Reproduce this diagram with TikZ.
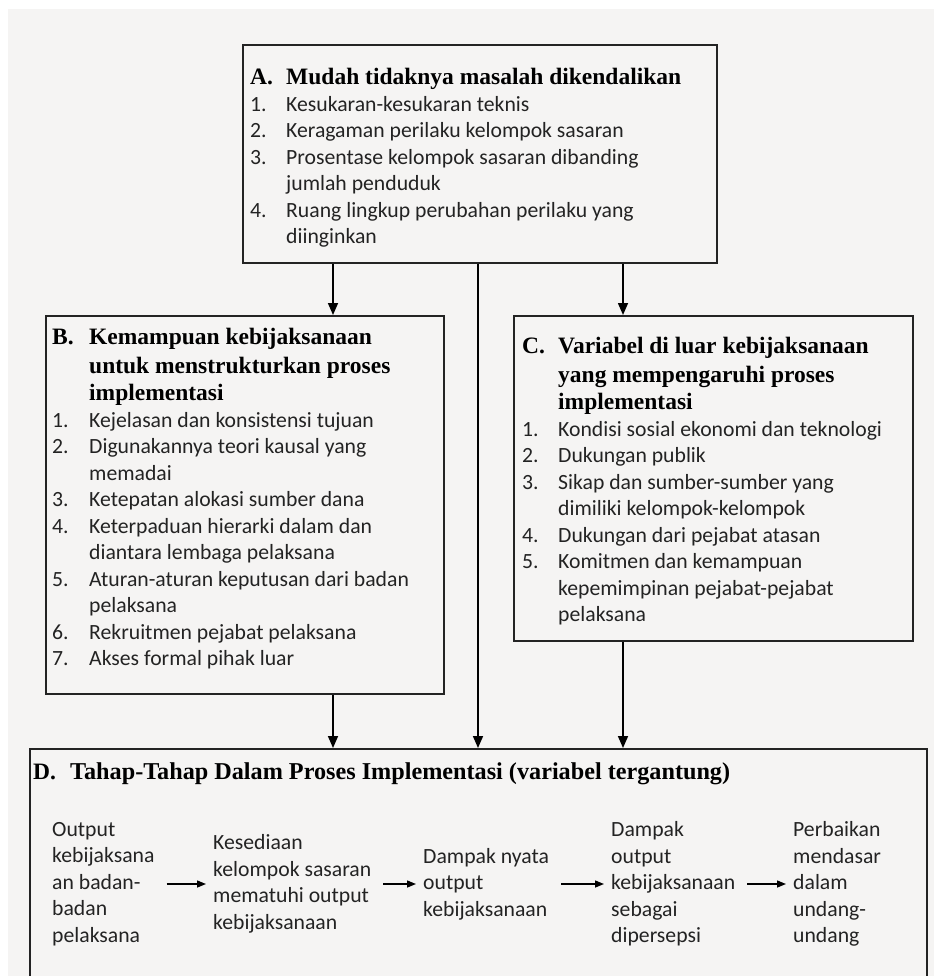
\documentclass[tikz,border=0pt]{standalone}
\usepackage{fontspec}
\usepackage{array}
\setmainfont{Liberation Serif}
\newfontfamily\calfont{Carlito}
\usetikzlibrary{arrows.meta,positioning}

\definecolor{paper}{RGB}{245,244,243}
\definecolor{ink}{RGB}{35,35,35}
\newcommand{\hfont}{\fontsize{23.5}{28}\selectfont\rmfamily\bfseries\color{black}}
\newcommand{\ifont}{\fontsize{21.7}{26.5}\selectfont\calfont}

\begin{document}
\begin{tikzpicture}[x=1pt,y=-1pt,>={Triangle[length=12pt,width=10pt]}]
        \tikzstyle{box}=[draw=ink,line width=1.6pt,anchor=north west,inner sep=0pt]
        \tikzstyle{list}=[anchor=north west,inner sep=0pt,text=ink,font=\ifont]
        \tikzstyle{link}=[->,line width=1.6pt,black]
        \tikzstyle{stage}=[anchor=west,inner sep=0pt,align=left,text=ink,font=\ifont]
        \tikzstyle{flow}=[-{Triangle[length=9pt,width=7pt]},line width=1.4pt,black,
            shorten <=12pt,shorten >=7pt]

        % Paper
        \useasboundingbox (0,0) rectangle (934,976);
        \fill[white] (0,0) rectangle (934,976);
        \fill[paper] (8,9) rectangle (934,976);

        % Draw the four boxes
        \node[box,minimum width=474pt,minimum height=218pt] (A) at (242,44) {};
        \node[box,minimum width=398pt,minimum height=378pt] (B) at (45,315) {};
        \node[box,minimum width=399pt,minimum height=325pt] (C) at (513,315) {};
        \node[box,minimum width=897pt,minimum height=260pt] (D) at (29,748) {};

        % Box A
        \node[list] (A-text) at (250,66) {\begin{tabular}{@{}w{l}{36pt}@{}l@{}}
            \hfont A. & \hfont Mudah tidaknya masalah dikendalikan\\
            1. & Kesukaran-kesukaran teknis\\
            2. & Keragaman perilaku kelompok sasaran\\
            3. & Prosentase kelompok sasaran dibanding\\
               & jumlah penduduk\\
            4. & Ruang lingkup perubahan perilaku yang\\
               & diinginkan
        \end{tabular}};

        % Box B
        \node[list] (B-text) at (52,326) {\begin{tabular}{@{}w{l}{37pt}@{}l@{}}
            \hfont B. & \hfont Kemampuan kebijaksanaan\\[2pt]
               & \hfont untuk menstrukturkan proses\\[1pt]
               & \hfont implementasi\\
            1. & Kejelasan dan konsistensi tujuan\\
            2. & Digunakannya teori kausal yang\\
               & memadai\\
            3. & Ketepatan alokasi sumber dana\\
            4. & Keterpaduan hierarki dalam dan\\
               & diantara lembaga pelaksana\\
            5. & Aturan-aturan keputusan dari badan\\
               & pelaksana\\
            6. & Rekruitmen pejabat pelaksana\\
            7. & Akses formal pihak luar
        \end{tabular}};

        % Box C
        \node[list] (C-text) at (522,335) {\begin{tabular}{@{}w{l}{36pt}@{}l@{}}
            \hfont C. & \hfont Variabel di luar kebijaksanaan\\[2pt]
               & \hfont yang mempengaruhi proses\\[1pt]
               & \hfont implementasi\\
            1. & Kondisi sosial ekonomi dan teknologi\\
            2. & Dukungan publik\\
            3. & Sikap dan sumber-sumber yang\\
               & dimiliki kelompok-kelompok\\
            4. & Dukungan dari pejabat atasan\\
            5. & Komitmen dan kemampuan\\
               & kepemimpinan pejabat-pejabat\\
               & pelaksana
        \end{tabular}};

        % Box D
        \node[list] (D-text) at (33,761) {\begin{tabular}{@{}w{l}{37pt}@{}l@{}}
            \hfont D. & \hfont\fontsize{24.2}{28}\selectfont Tahap-Tahap Dalam Proses Implementasi (variabel tergantung)
        \end{tabular}};

        % Stages inside box D
        \node[stage] (S-1) at (52,884) {Output\\kebijaksana\\an badan-\\badan\\pelaksana};
        \node[stage] (S-2) at (213,884) {Kesediaan\\kelompok sasaran\\mematuhi output\\kebijaksanaan};
        \node[stage] (S-3) at (423,884) {Dampak nyata\\output\\kebijaksanaan};
        \node[stage] (S-4) at (611,884) {Dampak\\output\\kebijaksanaan\\sebagai\\dipersepsi};
        \node[stage] (S-5) at (793,884) {Perbaikan\\mendasar\\dalam\\undang-\\undang};

        \foreach \source/\dest in {1/2,2/3,3/4,4/5}
            \draw[flow] (S-\source.east) -- (S-\dest.west);

        % Connect the boxes
        \coordinate (xl) at (333,0);
        \coordinate (xm) at (478,0);
        \coordinate (xr) at (623,0);
        \draw[link] (A.south -| xl) -- (B.north -| xl);
        \draw[link] (A.south -| xr) -- (C.north -| xr);
        \draw[link] (A.south -| xm) -- (D.north -| xm);
        \draw[link] (B.south -| xl) -- (D.north -| xl);
        \draw[link] (C.south -| xr) -- (D.north -| xr);
\end{tikzpicture}
\end{document}
